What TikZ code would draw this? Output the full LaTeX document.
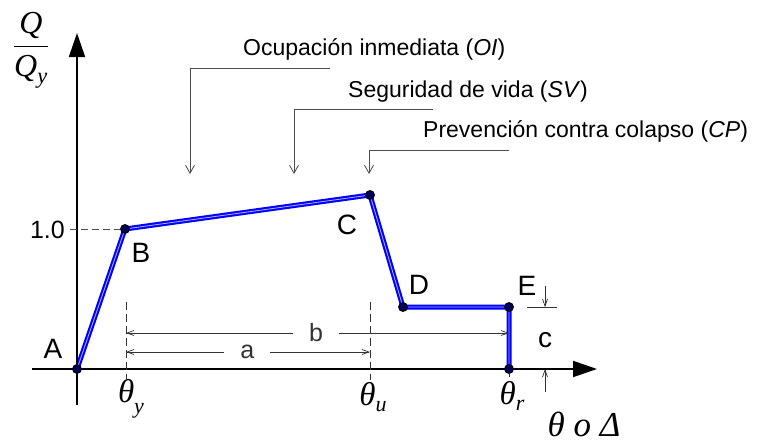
\documentclass[tikz,border=0pt]{standalone}
\usepackage{fix-cm}
\usepackage{amsmath}
\usepackage{fontspec}
\setmainfont{Liberation Sans}
\newfontfamily\serif{Liberation Serif}
\newcommand{\tsit}[1]{\text{\serif\itshape #1}}
\usetikzlibrary{arrows.meta,backgrounds}

\begin{document}
\begin{tikzpicture}[x=1pt, y=-1pt,
	point/.style={inner sep=0pt, minimum size=9pt, circle, fill=blue!35!black, draw=black, line width=0.8pt},
	lab/.style={font=\fontsize{28}{30}\selectfont, inner sep=0pt},
	dimlab/.style={font=\fontsize{25}{27}\selectfont, fill=white, inner ysep=0pt},
	curve/.style={draw=blue, line width=5pt, line join=round},
	axis/.style={line width=1.8pt, -{Triangle[length=24pt, width=16pt]}},
	note/.style={font=\fontsize{23}{26}\selectfont, anchor=base west, inner sep=0pt},
	lead/.style={draw=black!70, line width=0.8pt, -{Straight Barb[length=8pt, width=9pt]}},
	dim/.style={black!80, line width=0.7pt, {Straight Barb[length=7pt, width=5pt]}-{Straight Barb[length=7pt, width=5pt]}},
	ext/.style={black!80, line width=0.7pt, dash pattern=on 8pt off 4pt},
	theta/.style={font=\fontsize{33}{35}\selectfont\serif\itshape, inner sep=0pt}]
	\useasboundingbox (0,0) rectangle (760,445);
	
	% axes
	\coordinate (x0) at (32,369);
	\coordinate (x1) at (597,369);
	\coordinate (y0) at (77,405);
	\coordinate (y1) at (77,33);
	\draw[axis] (x0) -- (x1);
	\draw[axis] (y0) -- (y1);
	\node[inner sep=0pt] (qq) at (31,50) {\fontsize{32}{34}\selectfont$\dfrac{\tsit{Q}}{\tsit{Q}_{\tsit{y}}}$};
	\node[theta, font=\fontsize{35}{37}\selectfont\serif\itshape] (tod) at (584,424) {θ o Δ};
	
	% points of the curve
	\node[point] (A) at (77,369) {};
	\node[point] (B) at (125,229) {};
	\node[point] (C) at (370,195) {};
	\node[point] (D) at (403,307) {};
	\node[point] (E) at (509,307) {};
	\node[point] (F) at (509,369) {};
	\node[lab] (lA) at (53,349) {A};
	\node[lab] (lB) at (141,253) {B};
	\node[lab] (lC) at (347,225) {C};
	\node[lab] (lD) at (419,285) {D};
	\node[lab] (lE) at (527,286) {E};
	
	\begin{pgfonlayer}{background}
		\draw[curve] (A.center) -- (B.center) -- (C.center) -- (D.center) -- (E.center) -- (F.center);
		\draw[white!70!blue, line width=0.8pt, line join=round] (A.center) -- (B.center) -- (C.center) -- (D.center) -- (E.center) -- (F.center);
	\end{pgfonlayer}
	
	% 1.0 level
	\coordinate (q1) at (70,229);
	\draw[black!70, line width=0.8pt, dash pattern=on 7pt off 4pt] (q1) -- (B);
	\node[anchor=east, inner sep=0pt, font=\fontsize{25}{27}\selectfont] (one) at (65,230) {1.0};
	
	% theta labels
	\node[theta] (ty) at (131,399) {θ\raisebox{-0.32em}{\fontsize{22}{24}\selectfont y}};
	\node[theta] (tu) at (373,397) {θ\raisebox{-0.18em}{\fontsize{22}{24}\selectfont u}};
	\node[theta] (tr) at (512,396) {θ\raisebox{-0.18em}{\fontsize{22}{24}\selectfont r}};
	
	% dimensions a, b
	\coordinate (ey0) at (126,302);
	\coordinate (ey1) at (126,380);
	\coordinate (eu0) at (370,302);
	\coordinate (eu1) at (370,380);
	\coordinate (er1) at (509,377);
	\draw[ext] (ey0) -- (ey1);
	\draw[ext] (eu0) -- (eu1);
	\draw[black!80, line width=0.7pt] (F) -- (er1);
	\coordinate (b0) at (126,333);
	\coordinate (b1) at (509,333);
	\coordinate (a0) at (126,352);
	\coordinate (a1) at (370,352);
	\draw[dim] (b0) -- node[dimlab, inner xsep=16pt, pos=0.496] (lb) {b} (b1);
	\draw[dim] (a0) -- node[dimlab, inner xsep=16pt, pos=0.497] (la) {a} (a1);
	
	% dimension c
	\coordinate (c0) at (527,307);
	\coordinate (c1) at (557,307);
	\coordinate (ct) at (545,286);
	\coordinate (cm) at (545,307);
	\coordinate (cb) at (545,392);
	\coordinate (cn) at (545,369);
	\draw[black!80, line width=0.7pt] (c0) -- (c1);
	\draw[black!80, line width=0.7pt, -{Straight Barb[length=7pt, width=5pt]}] (ct) -- (cm);
	\draw[black!80, line width=0.7pt, -{Straight Barb[length=7pt, width=5pt]}] (cb) -- (cn);
	\node[font=\fontsize{28}{30}\selectfont, inner sep=0pt] (lc) at (545,340) {c};
	
	% performance levels
	\node[note] (OI) at (243,55) {Ocupación inmediata (\textit{OI})};
	\node[note] (SV) at (348,97) {Seguridad de vida (\textit{SV})};
	\node[note] (CP) at (423,137) {Prevención contra colapso (\textit{CP})};
	\coordinate (oi) at (330,68);
	\coordinate (sv) at (433,109);
	\coordinate (cp) at (509,150);
	\draw[lead] (oi) -- (190,68) -- (190,174);
	\draw[lead] (sv) -- (294,109) -- (294,174);
	\draw[lead] (cp) -- (369,150) -- (369,174);
\end{tikzpicture}
\end{document}
